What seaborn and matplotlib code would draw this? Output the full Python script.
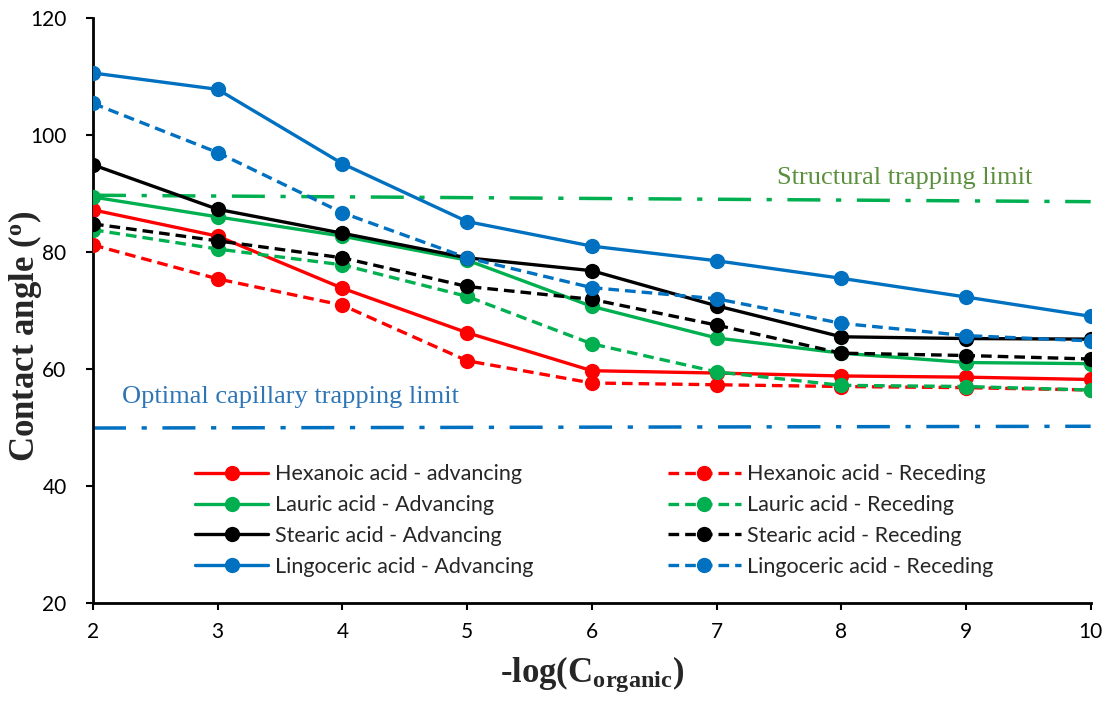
import matplotlib
matplotlib.use("Agg")
import matplotlib.pyplot as plt
import seaborn as sns
import pandas as pd
import numpy as np

x_vals = [2, 3, 4, 5, 6, 7, 8, 9, 10]

hexanoic_adv = [87.2, 82.7, 73.8, 66.2, 59.7, 59.3, 58.8, 58.6, 58.2]
hexanoic_rec = [81.2, 75.4, 70.9, 61.4, 57.6, 57.3, 57.0, 56.8, 56.4]
lauric_adv = [89.4, 86.0, 82.7, 78.6, 70.7, 65.3, 62.7, 61.1, 60.9]
lauric_rec = [83.8, 80.5, 77.8, 72.4, 64.3, 59.5, 57.2, 57.0, 56.4]
stearic_adv = [94.9, 87.3, 83.2, 79.0, 76.8, 70.8, 65.5, 65.2, 65.1]
stearic_rec = [84.8, 81.9, 79.0, 74.1, 71.9, 67.5, 62.7, 62.3, 61.7]
lingo_adv = [110.6, 107.8, 95.1, 85.2, 81.0, 78.5, 75.5, 72.3, 69.0]
lingo_rec = [105.4, 97.0, 86.7, 79.0, 73.9, 72.0, 67.8, 65.7, 64.8]

struct_limit_x = [2, 10]
struct_limit_y = [89.7, 88.6]
capil_limit_x = [2, 10]
capil_limit_y = [49.9, 50.2]

adv_labels = ["Hexanoic acid - advancing", "Lauric acid - Advancing",
              "Stearic acid - Advancing", "Lingoceric acid - Advancing"]
rec_labels = ["Hexanoic acid - Receding", "Lauric acid - Receding",
              "Stearic acid - Receding", "Lingoceric acid - Receding"]

colors = ["#FF0000", "#00B050", "#000000", "#0070C0"]

sns.set_theme(style="white")
plt.rcParams['font.family'] = ['Lato', 'DejaVu Sans']
plt.rcParams['mathtext.fontset'] = 'custom'
plt.rcParams['mathtext.rm'] = 'Liberation Serif'
plt.rcParams['mathtext.bf'] = 'Liberation Serif:bold'
plt.rcParams['mathtext.it'] = 'Liberation Serif:italic'

fig = plt.figure(figsize=(11.11, 7.06), dpi=100)
ax = fig.add_axes([0.0837, 0.146, 0.898, 0.8285])

# reference limits
ax.plot(struct_limit_x, struct_limit_y, color="#00B050", lw=2.5,
        dashes=(9.5, 4.5, 1.5, 4.5), zorder=1)
ax.plot(capil_limit_x, capil_limit_y, color="#0070C0", lw=2.5,
        dashes=(9.5, 4.5, 1.5, 4.5), zorder=1)

adv = [hexanoic_adv, lauric_adv, stearic_adv, lingo_adv]
rec = [hexanoic_rec, lauric_rec, stearic_rec, lingo_rec]

for vals, lab, c in zip(adv, adv_labels, colors):
    df = pd.DataFrame({"x": x_vals, "y": vals})
    sns.lineplot(data=df, x="x", y="y", ax=ax, color=c, lw=2.4,
                 marker="o", markersize=11, markeredgewidth=0,
                 label=lab, zorder=3)
for vals, lab, c in zip(rec, rec_labels, colors):
    df = pd.DataFrame({"x": x_vals, "y": vals})
    sns.lineplot(data=df, x="x", y="y", ax=ax, color=c, lw=2.4,
                 marker="o", markersize=11, markeredgewidth=0,
                 label=lab, zorder=3)
for l in ax.lines[-4:]:
    l.set_dashes((3.2, 1.8))

ax.set_xlim(2, 10)
ax.set_ylim(20, 120)
ax.set_xticks(x_vals)
ax.set_yticks([20, 40, 60, 80, 100, 120])
ax.tick_params(axis="both", direction="out", length=5, width=1.5,
               labelsize=15, colors="black", bottom=True, left=True)
ax.tick_params(axis="x", pad=9)
ax.tick_params(axis="y", pad=14)
for s in ["top", "right"]:
    ax.spines[s].set_visible(False)
for s in ["left", "bottom"]:
    ax.spines[s].set_color("black")
    ax.spines[s].set_linewidth(2)

ax.set_xlabel(r"-log(C$_{\mathbf{organic}}$)", fontsize=25, fontweight="bold",
              family="Liberation Serif")
ax.xaxis.set_label_coords(0.5, -0.088)
ax.set_ylabel(r"Contact angle ($^{\mathbf{o}}$)", fontsize=25, fontweight="bold",
              family="Liberation Serif")
ax.yaxis.set_label_coords(-0.049, 0.455)

ax.text(9.53, 90.8, "Structural trapping limit", color="#5A8F3C",
        family="Liberation Serif", fontsize=19, ha="right", va="bottom")
ax.text(2.23, 53.3, "Optimal capillary trapping limit", color="#2E75B6",
        family="Liberation Serif", fontsize=19, ha="left", va="bottom")

leg = ax.legend(ncol=2, loc="upper left", bbox_to_anchor=(0.083, 0.27),
                frameon=False, fontsize=15.5, columnspacing=6.25,
                handlelength=3.4, handletextpad=0.3, labelspacing=0.5)

fig.savefig("out.png", dpi=100)
